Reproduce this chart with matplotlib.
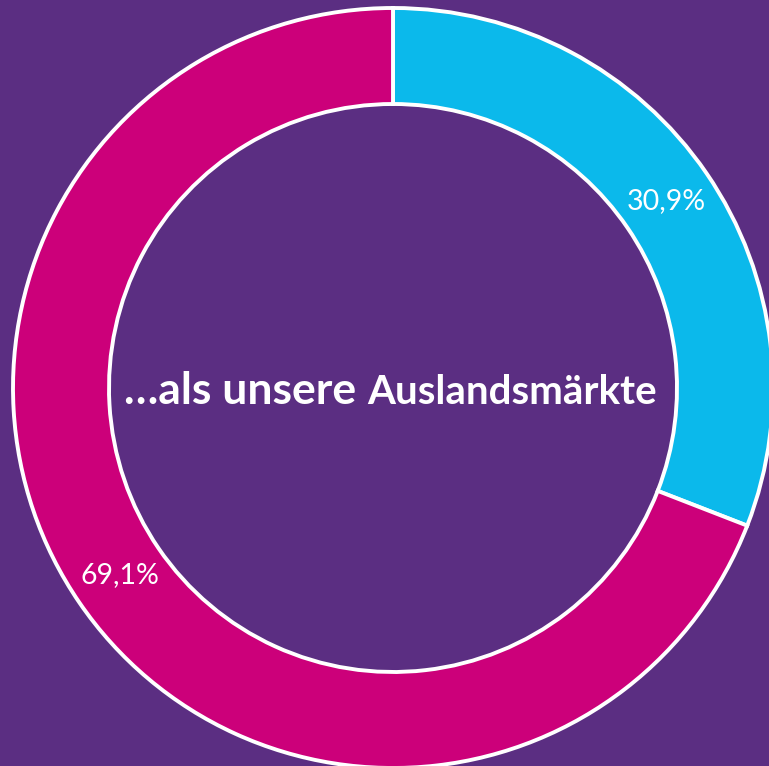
import matplotlib
matplotlib.use("Agg")
from matplotlib import pyplot as plt

# Data
labels = ["Auslandsmärkte", "Inland"]
shares = [30.9, 69.1]
colors = ["#0BB9EB", "#CC007A"]
background = "#5B2E82"

W, H = 769, 766
fig = plt.figure(figsize=(W / 100, H / 100), dpi=100, facecolor=background)
ax = fig.add_axes([0, 0, 1, 1])
ax.set_facecolor(background)

cx, cy = 393, H - 388  # donut centre, pixel coords (y up)
R = 380

wedges, texts, autotexts = ax.pie(
    shares,
    colors=colors,
    startangle=90,
    counterclock=False,
    center=(cx, cy),
    radius=R,
    autopct=lambda p: ("%.1f%%" % p).replace(".", ","),
    pctdistance=0.872,
    wedgeprops=dict(width=R - 284, edgecolor="white", linewidth=2.8),
    textprops=dict(color="white", fontsize=20.5, family="Lato"),
)

ax.set_xlim(0, W)
ax.set_ylim(0, H)
ax.set_aspect("equal")
ax.axis("off")

# Centre title in two sizes, centred as a whole
t1 = ax.text(cx, cy, "\u2026als unsere", color="white", fontsize=32,
             fontweight="bold", family="Lato", ha="left", va="baseline")
t2 = ax.text(cx, cy, "Auslandsmärkte", color="white", fontsize=29,
             fontweight="bold", family="Lato", ha="left", va="baseline")
fig.canvas.draw()
r = fig.canvas.get_renderer()
w1 = t1.get_window_extent(r).width
w2 = t2.get_window_extent(r).width
gap = 11
x0 = cx - 3 - (w1 + gap + w2) / 2
base = H - 404
t1.set_position((x0, base))
t2.set_position((x0 + w1 + gap, base))

fig.savefig("out.png", dpi=100, facecolor=background)
